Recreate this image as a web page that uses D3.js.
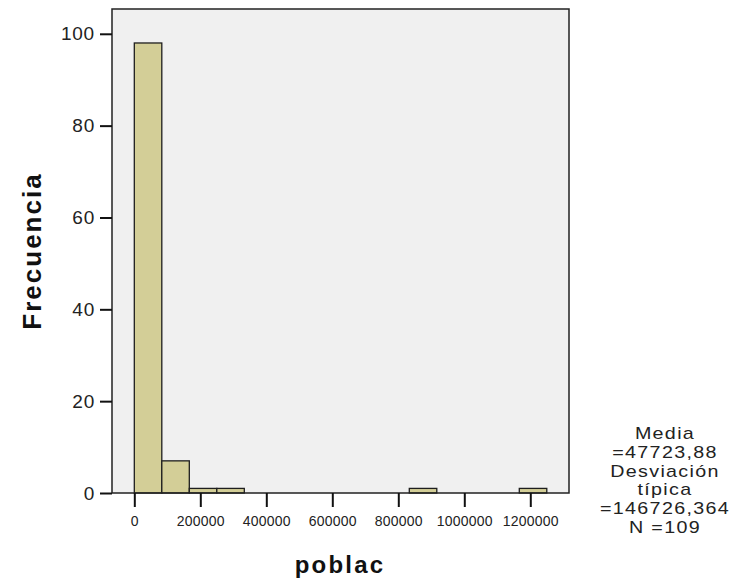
<!DOCTYPE html>
<html>
<head>
<meta charset="utf-8">
<script src="https://cdn.jsdelivr.net/npm/d3@7"></script>
<style>
  html, body { margin: 0; padding: 0; background: #ffffff; }
  svg { display: block; font-family: "Liberation Sans", Arial, sans-serif; }
</style>
</head>
<body>
<svg id="chart" width="741" height="581"></svg>
<script>
// ---- data ----
const binStart = 0;
const binWidth = 1250000 / 15;
const counts = [98, 7, 1, 1, 0, 0, 0, 0, 0, 0, 1, 0, 0, 0, 1];
const xTicks = [0, 200000, 400000, 600000, 800000, 1000000, 1200000];
const yTicks = [0, 20, 40, 60, 80, 100];
const xTitle = "poblac";
const yTitle = "Frecuencia";
const statsLines = ["Media", "=47723,88", "Desviación", "típica", "=146726,364", "N =109"];

// ---- layout ----
const svg = d3.select("#chart");
const frame = { left: 112, top: 9, right: 569, bottom: 493 };

const x = d3.scaleLinear().domain([-67600, 1317300]).range([frame.left, frame.right]);
const y = d3.scaleLinear().domain([0, 105.4]).range([frame.bottom, frame.top]);

// plot background
svg.append("rect")
  .attr("x", frame.left).attr("y", frame.top)
  .attr("width", frame.right - frame.left).attr("height", frame.bottom - frame.top)
  .attr("fill", "#f0f0f0");

// bars
const bins = counts.map((c, i) => ({ x0: binStart + i * binWidth, x1: binStart + (i + 1) * binWidth, c }));
svg.append("g").selectAll("rect").data(bins.filter(d => d.c > 0)).join("rect")
  .attr("x", d => x(d.x0))
  .attr("y", d => y(d.c))
  .attr("width", d => x(d.x1) - x(d.x0))
  .attr("height", d => y(0) - y(d.c))
  .attr("fill", "#d3ce97")
  .attr("stroke", "#1e1e1e")
  .attr("stroke-width", 1.3);

// frame
svg.append("rect")
  .attr("x", frame.left).attr("y", frame.top)
  .attr("width", frame.right - frame.left).attr("height", frame.bottom - frame.top)
  .attr("fill", "none")
  .attr("stroke", "#222")
  .attr("stroke-width", 1.5);

// y axis
const yAxis = d3.axisLeft(y).tickValues(yTicks).tickSize(12).tickPadding(5).tickFormat(d3.format("d"));
const gy = svg.append("g").attr("transform", `translate(${frame.left},0)`).call(yAxis);
gy.select(".domain").remove();
gy.selectAll(".tick line").attr("stroke", "#111").attr("stroke-width", 2);
gy.selectAll(".tick text")
  .attr("fill", "#222")
  .style("font-size", "19px")
  .style("font-family", "'Liberation Sans', Arial, sans-serif")
  .style("letter-spacing", "0.8px");

// x axis
const xAxis = d3.axisBottom(x).tickValues(xTicks).tickSize(14).tickPadding(9).tickFormat(d3.format("d"));
const gx = svg.append("g").attr("transform", `translate(0,${frame.bottom})`).call(xAxis);
gx.select(".domain").remove();
gx.selectAll(".tick line").attr("stroke", "#111").attr("stroke-width", 2);
gx.selectAll(".tick text")
  .attr("fill", "#222")
  .style("font-size", "14px")
  .style("font-family", "'Liberation Sans', Arial, sans-serif")
  .style("letter-spacing", "0.2px");

// axis titles
svg.append("text")
  .attr("transform", "translate(41,251) rotate(-90)")
  .attr("text-anchor", "middle")
  .style("font-size", "26px")
  .style("font-weight", "bold")
  .style("letter-spacing", "2px")
  .attr("fill", "#111")
  .text(yTitle);

svg.append("text")
  .attr("x", 340).attr("y", 573)
  .attr("text-anchor", "middle")
  .style("font-size", "24px")
  .style("font-weight", "bold")
  .style("letter-spacing", "2.2px")
  .attr("fill", "#111")
  .text(xTitle);

// stats block (horizontally stretched, tight lines)
svg.append("g").selectAll("text").data(statsLines).join("text")
  .attr("transform", (d, i) => `translate(665,${439 + i * 18.8}) scale(1.2,1)`)
  .attr("text-anchor", "middle")
  .style("font-size", "16.4px")
  .style("letter-spacing", "1.1px")
  .attr("fill", "#222")
  .text(d => d);
</script>
</body>
</html>
